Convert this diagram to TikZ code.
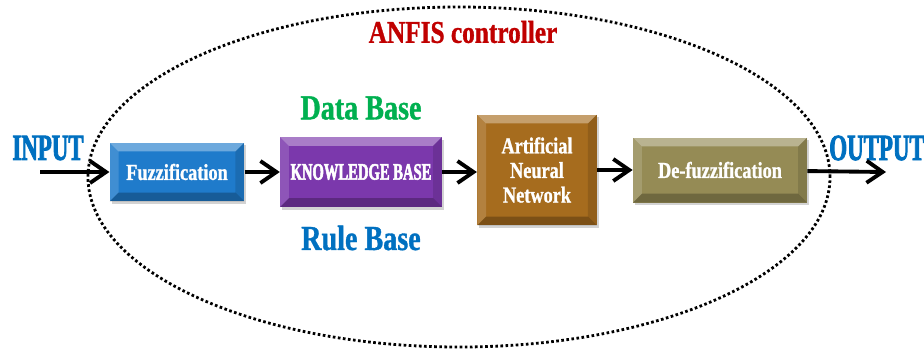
\documentclass[tikz,border=0pt]{standalone}
\usepackage{fontspec}
\usetikzlibrary{arrows.meta,shadows}

% narrow bold serif faces
\newfontfamily\narrowfont[FakeStretch=0.8, FakeBold=1]{Liberation Serif Bold}
\newfontfamily\capsfont[FakeStretch=0.62, FakeBold=2.2]{Liberation Serif Bold}

\definecolor{fuzzblue}{HTML}{1F7BCB}
\definecolor{kbpurple}{HTML}{7B38AC}
\definecolor{annbrown}{HTML}{A66C1E}
\definecolor{defuzzolive}{HTML}{958B55}
\definecolor{labelblue}{HTML}{0070C0}
\definecolor{labelgreen}{HTML}{00B050}
\definecolor{labelred}{HTML}{C00000}

\tikzset{
  block/.style={rectangle, fill=#1, text=white, align=center,
    drop shadow={opacity=0.35, shadow xshift=1.2pt, shadow yshift=-1.5pt},
    path picture={
      \fill[white, opacity=0.35] (path picture bounding box.north west)
        -- (path picture bounding box.north east)
        -- ([shift={(-5pt,-5pt)}]path picture bounding box.north east)
        -- ([shift={(5pt,-5pt)}]path picture bounding box.north west) -- cycle;
      \fill[white, opacity=0.15] (path picture bounding box.north west)
        -- (path picture bounding box.south west)
        -- ([shift={(5pt,5pt)}]path picture bounding box.south west)
        -- ([shift={(5pt,-5pt)}]path picture bounding box.north west) -- cycle;
      \fill[black, opacity=0.25] (path picture bounding box.south west)
        -- (path picture bounding box.south east)
        -- ([shift={(-5pt,5pt)}]path picture bounding box.south east)
        -- ([shift={(5pt,5pt)}]path picture bounding box.south west) -- cycle;
      \fill[black, opacity=0.12] (path picture bounding box.north east)
        -- (path picture bounding box.south east)
        -- ([shift={(-5pt,5pt)}]path picture bounding box.south east)
        -- ([shift={(-5pt,-5pt)}]path picture bounding box.north east) -- cycle;
    }},
  boxtext/.style={font=\narrowfont\fontsize{13}{14}\selectfont},
  flow/.style={line width=2.2pt, -{Straight Barb[length=3.2mm,width=4.4mm]}},
}

\begin{document}
\begin{tikzpicture}[x=0.2mm, y=-0.2mm]
\useasboundingbox (0,0) rectangle (924,349);

% controller boundary
\draw[line width=1.6pt, dash pattern=on 1.5pt off 1.4pt]
  (459,177) ellipse [x radius=7.42cm, y radius=3.4cm];
\node[text=labelred, font=\narrowfont\fontsize{18}{20}\selectfont] (title) at (463,32) {ANFIS controller};

% processing blocks
\node[block=fuzzblue, boxtext, minimum width=76.5pt, minimum height=33.5pt] (fuzz) at (177,172) {Fuzzification};
\node[block=kbpurple, minimum width=92pt, minimum height=39.7pt,
  font=\capsfont\fontsize{13.4}{15}\selectfont] (kb) at (361,172) {KNOWLEDGE BASE};
\node[block=annbrown, boxtext, minimum width=68pt, minimum height=63pt] (ann) at (537,170) {Artificial\\Neural\\Network};
\node[block=defuzzolive, boxtext, minimum width=99pt, minimum height=37pt] (defuzz) at (720,170) {De-fuzzification};

% labels round the knowledge base
\node[text=labelgreen, font=\narrowfont\fontsize{20}{22}\selectfont] (data) at (361,108) {Data Base};
\node[text=labelblue, font=\narrowfont\fontsize{20}{22}\selectfont] (rule) at (361,238) {Rule Base};

% input and output
\node[text=labelblue, font=\capsfont\fontsize{21}{23}\selectfont] (input) at (48,148) {INPUT};
\node[text=labelblue, font=\capsfont\fontsize{21}{23}\selectfont] (output) at (877,148) {OUTPUT};
\coordinate (in) at (40,172);
\coordinate (out) at (886,172);

\draw[flow] (in) -- (fuzz);
\draw[flow] (fuzz) -- (kb);
\draw[flow] (kb) -- (kb -| ann.west);
\draw[flow] (defuzz -| ann.east) -- (defuzz);
\draw[flow] (defuzz) -- (out);
\end{tikzpicture}
\end{document}
